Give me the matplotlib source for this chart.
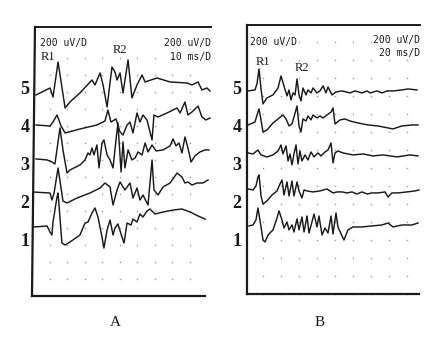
import matplotlib
matplotlib.use("Agg")
import matplotlib.pyplot as plt
import numpy as np

W, H = 438, 340

# ---- panel A: 10 ms/D, 200 uV/D  (time in ms, amplitude in uV from trace start)
a5_t = [2.3, 10.3, 12, 14.9, 18.9, 21.7, 27.4, 34.3, 36, 38.9, 40.6, 42.9, 45.7, 47.4, 48.6,
        50.3, 52, 54.9, 57.1, 60, 62.9, 64.6, 71.4, 78.9, 88.6, 91.4, 94.9, 97.1, 100, 101.7]
a5_v = [0, 82, -24, 388, -153, -82, 24, 176, 118, 259, 118, -141, 329, 270, 176,
        259, 24, 412, -35, 118, 235, 153, 200, 153, 141, 118, 153, 59, 82, 47]

a4_t = [2.3, 10.3, 12, 14.3, 16.6, 18.9, 27.4, 37.1, 41.7, 43.4, 45.1, 48, 50.3, 52, 54.3, 56, 57.7,
        60, 61.7, 63.4, 65.7, 68.6, 69.7, 72, 77.1, 82.9, 84.6, 87.4, 89.1, 91.4, 94.9, 97.1, 99.4, 101.7]
a4_v = [0, -12, 35, 118, -12, -94, -47, 0, 47, 176, 35, 71, -82, -118, 0, 35, -94,
        141, 35, 118, 59, -176, 118, 94, 141, 200, 141, 270, 118, 153, 223, 94, 59, 82]

a3_t = [2.3, 8.6, 11.4, 13.1, 16, 17.7, 20, 21.7, 27.4, 30.3, 32, 33.1, 34.3, 35.4, 37.1, 38.3,
        40, 41.1, 42.9, 44.6, 46.3, 48, 49.1, 50.9, 52, 53.1, 54.9, 57.1, 58.9, 60.6, 62.9, 64.6,
        66.3, 68.6, 70.9, 74.9, 78.9, 80.6, 82.3, 84, 85.7, 87.4, 89.1, 90.9, 93.1, 96, 98.9, 101.1]
a3_v = [12, 0, -24, -47, 376, 118, -153, -118, -59, 0, 82, 59, 141, 59, 176, -94,
        200, 235, 59, 0, -94, 235, 435, -141, 212, -94, 118, 0, 24, 94, 59, 200,
        94, 176, 106, 118, 165, 247, 165, 200, 82, 270, 141, -24, 47, 94, 118, 118]

a2_t = [0.6, 10.3, 11.4, 12.6, 14.9, 17.7, 20, 25.7, 33.1, 38.9, 41.7, 44.6, 46.3, 48.6, 50.3,
        53.1, 56, 57.7, 60, 61.7, 63.4, 66.3, 68.6, 69.7, 72, 74.9, 78.9, 82.9, 85.7, 87.4,
        89.1, 91.4, 94.3, 97.7, 100.6]
a2_v = [0, -12, -94, -12, 282, -106, -129, -71, -12, 47, 106, 59, -153, 24, 118,
        24, 106, -71, 47, -94, -35, -153, 376, 24, -35, 59, 106, 223, 176, 106,
        118, 82, 106, 106, 141]

a1_t = [0.6, 8.6, 10.3, 11.4, 12, 14.3, 14.9, 17.1, 18.9, 21.7, 27.4, 30.3, 32, 34.3, 36, 37.7,
        40, 41.1, 42.9, 44.6, 46.3, 47.4, 49.1, 51.4, 52.6, 54.3, 56.6, 57.7, 60, 61.7, 63.4,
        65.7, 67.4, 70.3, 74.9, 80.6, 85.7, 90.3, 94.9, 98.9]
a1_v = [-12, 0, -71, -106, 47, 341, 388, -200, -223, -188, -106, 35, 47, 153, 212, 106,
        -129, -259, -47, 71, -106, -24, 24, -129, -200, 35, 12, 82, 47, 141, 106,
        176, 200, 141, 165, 188, 200, 165, 118, 82]

# ---- panel B: 20 ms/D, 200 uV/D
b5_t = [3.3, 11.1, 13.3, 15.6, 17.8, 20, 24.4, 31.1, 36.7, 40, 43.3, 46.7, 48.9, 51.1, 53.3, 55.6,
        57.8, 60, 62.2, 64.4, 67.8, 70, 73.3, 75.6, 80, 83.3, 86.7, 90, 92.2, 96.7, 101.1, 107.8,
        116.7, 122.2, 130, 135.6, 138.9, 146.7, 152.2, 157.8, 164.4, 174.4, 181.1, 191.1]
b5_v = [0, 11, 78, 244, 22, -144, -78, -44, 33, 167, 56, -56, 11, -100, -22, -44,
        133, -44, -111, 33, -44, 11, -22, 33, -22, 0, 56, -22, 44, -44, -11, 0,
        -22, 0, -22, 0, -22, 0, -22, 0, 0, 11, 22, 11]

b4_t = [3.3, 11.1, 14.4, 15.6, 17.8, 20, 24.4, 31.1, 36.7, 42.2, 45.6, 48.9, 52.2, 54.4, 57.8, 60,
        62.2, 64.4, 67.8, 70, 73.3, 75.6, 80, 83.3, 86.7, 91.1, 95.6, 97.8, 100, 105.6, 111.1,
        116.7, 125.6, 136.7, 147.8, 158.9, 164.4, 174.4, 185.6, 192.2]
b4_v = [0, 33, 144, 178, 56, -78, -56, 22, 67, 111, 67, -11, 11, 89, 211, -11,
        -78, 67, 44, 100, 56, 111, 78, 100, 78, 111, 144, 189, 11, 56, 67,
        44, 22, 0, -11, -33, -44, -11, 0, 0]

b3_t = [3.3, 8.9, 14.4, 17.8, 24.4, 31.1, 36.7, 40, 42.2, 45.6, 47.8, 50, 52.2, 54.4, 56.7, 58.9,
        61.1, 63.3, 66.7, 70, 73.3, 76.7, 81.1, 84.4, 88.9, 92.2, 95.6, 97.8, 100, 103.3, 108.9,
        120, 131.1, 142.2, 153.3, 168.9, 183.3, 192.2]
b3_v = [0, -11, 33, -22, -44, -22, 22, 89, -11, 78, -89, -11, -133, -11, 89, -122,
        22, -89, -22, -78, 11, -44, 0, -33, 11, 33, 111, -111, 0, 22, 0,
        -22, -11, -33, -22, -44, -22, -33]

b2_t = [3.3, 8.9, 12.2, 14.4, 15.6, 17.8, 20, 24.4, 30, 35.6, 38.9, 41.1, 43.3, 46.7, 48.9, 52.2,
        54.4, 57.8, 60, 63.3, 65.6, 68.9, 75.6, 83.3, 91.1, 97.8, 102.2, 107.8, 113.3, 118.9,
        124.4, 130, 135.6, 141.1, 147.8, 155.6, 158.9, 163.3, 170, 180, 188.9, 193.3]
b2_v = [0, -11, 33, 133, 156, -78, -167, -133, -67, -22, 56, 100, -67, 78, -78, 89,
        -78, 78, -22, -100, -11, -22, -33, -22, 0, -44, -33, -33, -44, -33,
        -56, -33, -56, -44, -44, -33, -89, -44, -44, -33, -22, -11]

b1_t = [4.4, 8.9, 12.2, 14.4, 17.8, 20, 22.2, 25.6, 31.1, 35.6, 37.8, 41.1, 43.3, 46.7, 48.9, 52.2,
        54.4, 57.8, 60, 63.3, 65.6, 68.9, 71.1, 74.4, 76.7, 80, 82.2, 85.6, 88.9, 92.2, 95.6,
        97.8, 101.1, 103.3, 107.8, 110, 114.4, 120, 130, 141.1, 152.2, 158.9, 164.4, 174.4, 185.6, 192.2]
b1_v = [0, 11, 67, 200, -11, -156, -178, -100, -44, 89, 167, 67, -22, 44, -44, 11,
        -67, 78, -44, 100, -67, 111, -78, 44, 133, -11, 111, -100, -22, -78, 111,
        -89, 144, -11, -111, -156, -44, -11, -11, 0, 11, 33, -11, 11, 11, 33]

row_labels = ["1", "2", "3", "4", "5"]

fig = plt.figure(figsize=(W / 100, H / 100), dpi=100)
fig.patch.set_facecolor("white")


def make_axes(left_px, right_px, top_px, bottom_px, x0_px, base_px, px_per_ms, uv_per_px):
    ax = fig.add_axes([left_px / W, 1 - bottom_px / H,
                       (right_px - left_px) / W, (bottom_px - top_px) / H])
    ax.set_xlim((left_px - x0_px) / px_per_ms, (right_px - x0_px) / px_per_ms)
    ax.set_ylim((base_px - bottom_px) * uv_per_px, (base_px - top_px) * uv_per_px)
    ax.axis("off")
    return ax


def tx(px, py, s, **kw):
    fig.text(px / W, 1 - py / H, s, **kw)


ink = "#1a1a1a"
mono = dict(family="DejaVu Sans Mono", fontsize=7, color=ink, va="center")
serif = dict(family="Liberation Serif", color=ink, va="center", ha="center")

# ---------------- panel A
axA = make_axes(28, 216, 20, 300, 32, 296, 1.75, 11.76)
for t in range(10, 100, 10):
    axA.plot([t] * 15, np.arange(0, 3000, 200), ls="none", marker="s", ms=1.0,
             color="#9a9a9a", mec="none")
axA.plot([0, 1.7], [0, 3164], color=ink, lw=1.6)
axA.plot([2.3, 102.3], [3164, 3164], color=ink, lw=1.4)
axA.plot([0, 98.9], [0, 0], color=ink, lw=1.6)
offsA = [823, 1223, 1600, 2011, 2364]
for (t, v), off in zip([(a1_t, a1_v), (a2_t, a2_v), (a3_t, a3_v), (a4_t, a4_v), (a5_t, a5_v)], offsA):
    axA.plot(t, np.array(v) + off, color=ink, lw=1.05, solid_joinstyle="round")

# ---------------- panel B
axB = make_axes(240, 426, 20, 300, 245, 294, 0.9, 11.11)
for t in range(20, 200, 20):
    axB.plot([t] * 15, np.arange(0, 3000, 200), ls="none", marker="s", ms=1.0,
             color="#9a9a9a", mec="none")
axB.plot([2.2, 2.2], [0, 2989], color=ink, lw=1.6)
axB.plot([2.2, 194.4], [2989, 2989], color=ink, lw=1.4)
axB.plot([2.2, 193.3], [0, 0], color=ink, lw=1.6)
offsB = [756, 1167, 1567, 1878, 2256]
for (t, v), off in zip([(b1_t, b1_v), (b2_t, b2_v), (b3_t, b3_v), (b4_t, b4_v), (b5_t, b5_v)], offsB):
    axB.plot(t, np.array(v) + off, color=ink, lw=1.05, solid_joinstyle="round")

# ---------------- labels
rows_py = [242, 203, 165, 128, 90]
for lab, py in zip(row_labels, rows_py):
    tx(25, py, lab, fontsize=13, fontweight="bold", **serif)
    tx(237, py, lab, fontsize=13, fontweight="bold", **serif)

tx(40, 43, "200 uV/D", ha="left", **mono)
tx(211, 43, "200 uV/D", ha="right", **mono)
tx(211, 57, "10 ms/D", ha="right", **mono)
tx(48, 57, "R1", fontsize=9, **serif)
tx(120, 50, "R2", fontsize=9, **serif)

tx(250, 42, "200 uV/D", ha="left", **mono)
tx(420, 40, "200 uV/D", ha="right", **mono)
tx(420, 53, "20 ms/D", ha="right", **mono)
tx(263, 62, "R1", fontsize=9, **serif)
tx(302, 68, "R2", fontsize=9, **serif)

tx(115, 323, "A", fontsize=11, **serif)
tx(320, 323, "B", fontsize=11, **serif)

fig.savefig("out.png", dpi=100, facecolor="white")
